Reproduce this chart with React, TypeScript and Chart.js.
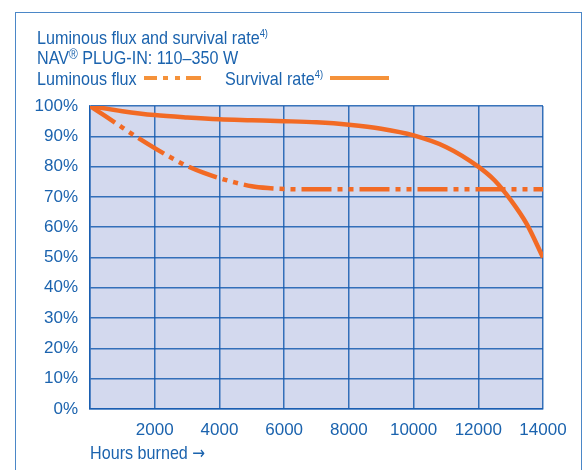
import React, { useEffect, useRef } from "react";
import { Chart, registerables } from "chart.js";

Chart.register(...registerables);

const fluxHours = [0, 500, 1000, 1500, 2000, 2500, 3000, 3500, 4000, 4500, 5000, 5500, 6000, 7000, 14000];
const fluxValues = [100, 96.5, 92.9, 89.4, 86.1, 83.0, 80.2, 78.0, 76.2, 74.7, 73.5, 72.9, 72.6, 72.5, 72.5];

const survivalHours = [0, 1000, 2000, 3000, 4000, 5000, 6000, 7000, 8000, 9000, 10000, 11000, 12000, 12500, 13000, 13500, 14000];
const survivalValues = [100, 98.3, 97, 96.2, 95.6, 95.3, 95, 94.6, 93.8, 92.5, 90.3, 86.5, 80, 75.5, 69, 61, 50];

const xTicks = [0, 2000, 4000, 6000, 8000, 10000, 12000, 14000];
const yTicks = [0, 10, 20, 30, 40, 50, 60, 70, 80, 90, 100];

const FONT = '"Liberation Sans", Arial, sans-serif';
const BLUE = "#1b63ae";
const ORANGE = "#f26a24";
const LEGEND_ORANGE = "#f5923a";
const GRID = "rgba(22, 92, 175, 0.85)";
const PLOT_BG = "#d3d9ee";

const bgPlugin = {
  id: "plotBg",
  beforeDraw(chart: any) {
    const { ctx, chartArea } = chart;
    if (!chartArea) return;
    ctx.save();
    ctx.fillStyle = PLOT_BG;
    ctx.fillRect(chartArea.left, chartArea.top, chartArea.right - chartArea.left, chartArea.bottom - chartArea.top);
    ctx.restore();
  },
};

export default function App() {
  const ref = useRef<HTMLCanvasElement>(null);

  useEffect(() => {
    if (!ref.current) return;
    const chart = new Chart(ref.current, {
      type: "line",
      data: {
        datasets: [
          {
            label: "Luminous flux",
            data: fluxHours.map((h, i) => ({ x: h, y: fluxValues[i] })),
            borderColor: ORANGE,
            borderWidth: 4.5,
            borderDash: [30, 6, 5, 6, 5, 6],
            pointRadius: 0,
            cubicInterpolationMode: "monotone",
            fill: false,
          },
          {
            label: "Survival rate",
            data: survivalHours.map((h, i) => ({ x: h, y: survivalValues[i] })),
            borderColor: ORANGE,
            borderWidth: 4.5,
            pointRadius: 0,
            cubicInterpolationMode: "monotone",
            fill: false,
          },
        ],
      },
      options: {
        animation: false,
        responsive: false,
        maintainAspectRatio: false,
        layout: { padding: { top: 106, right: 44, bottom: 31, left: 0 } },
        plugins: { legend: { display: false }, tooltip: { enabled: false }, title: { display: false } },
        scales: {
          x: {
            type: "linear",
            min: 0,
            max: 14000,
            afterBuildTicks: (s: any) => {
              s.ticks = xTicks.map((v) => ({ value: v }));
            },
            afterFit: (s: any) => {
              s.height = 30;
            },
            ticks: {
              color: BLUE,
              font: { family: FONT, size: 17 },
              padding: 11,
              maxRotation: 0,
              autoSkip: false,
              callback: (v: any) => (v === 0 ? "" : String(v)),
            },
            grid: { color: GRID, lineWidth: 1.5, drawTicks: false },
            border: { color: GRID, width: 1.5 },
          },
          y: {
            min: 0,
            max: 100,
            afterBuildTicks: (s: any) => {
              s.ticks = yTicks.map((v) => ({ value: v }));
            },
            afterFit: (s: any) => {
              s.width = 90;
            },
            ticks: {
              color: BLUE,
              font: { family: FONT, size: 17 },
              padding: 12,
              autoSkip: false,
              callback: (v: any) => v + "%",
            },
            grid: { color: GRID, lineWidth: 1.5, drawTicks: false },
            border: { color: GRID, width: 1.5 },
          },
        },
      },
      plugins: [bgPlugin],
    });
    return () => chart.destroy();
  }, []);

  const text: React.CSSProperties = {
    position: "absolute",
    fontFamily: FONT,
    fontSize: 19,
    lineHeight: "21px",
    color: BLUE,
    whiteSpace: "nowrap",
    transform: "scaleX(0.85)",
    transformOrigin: "0 0",
  };
  const sup: React.CSSProperties = { fontSize: 11, verticalAlign: "7px", lineHeight: 0 };

  return (
    <div style={{ position: "fixed", left: 0, top: 0, width: 587, height: 470, background: "#fff", overflow: "hidden" }}>
      <div
        style={{
          position: "absolute",
          left: 15,
          top: 12,
          width: 567,
          height: 480,
          border: "1.5px solid #4b87c7",
          boxSizing: "border-box",
        }}
      />
      <canvas ref={ref} width={587} height={470} style={{ position: "absolute", left: 0, top: 0, width: 587, height: 470 }} />
      <div style={{ ...text, left: 37, top: 27 }}>
        Luminous flux and survival rate<span style={sup}>4)</span>
      </div>
      <div style={{ ...text, left: 37, top: 47 }}>
        NAV<span style={{ ...sup, fontSize: 14, verticalAlign: "5px" }}>®</span> PLUG-IN: 110–350 W
      </div>
      <div style={{ ...text, left: 37, top: 68 }}>Luminous flux</div>
      <svg style={{ position: "absolute", left: 144, top: 75 }} width={57} height={6}>
        <line x1={0} y1={3} x2={57} y2={3} stroke={LEGEND_ORANGE} strokeWidth={4} strokeDasharray="13 6 5 7 5 6 15" />
      </svg>
      <div style={{ ...text, left: 225, top: 68 }}>
        Survival rate<span style={sup}>4)</span>
      </div>
      <svg style={{ position: "absolute", left: 330, top: 75 }} width={59} height={6}>
        <line x1={0} y1={3} x2={59} y2={3} stroke={LEGEND_ORANGE} strokeWidth={4} />
      </svg>
      <div style={{ ...text, left: 90, top: 442 }}>
        Hours burned <span style={{ fontFamily: '"DejaVu Sans", sans-serif', fontSize: 18 }}>→</span>
      </div>
    </div>
  );
}
